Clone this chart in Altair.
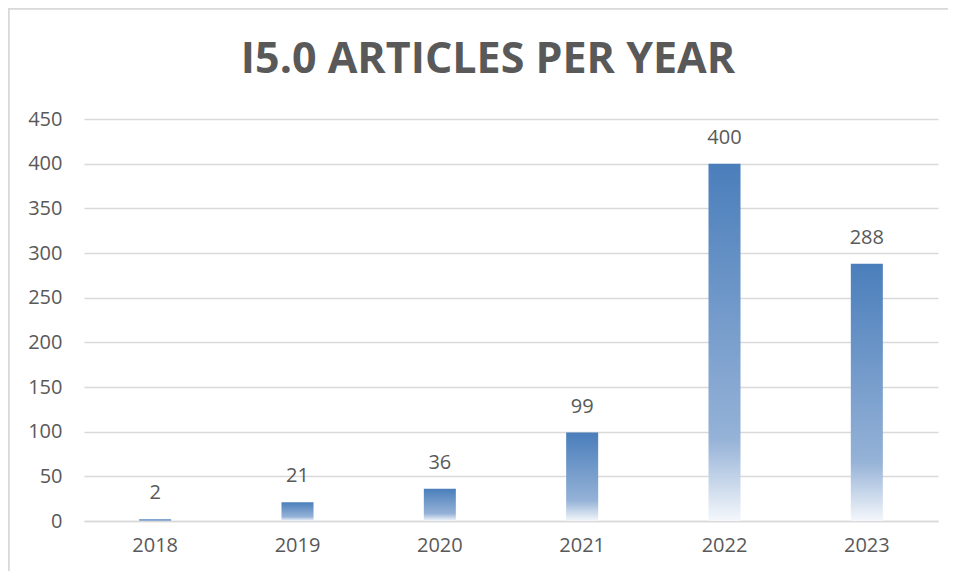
import altair as alt
import pandas as pd

years = ["2018", "2019", "2020", "2021", "2022", "2023"]
articles = [2, 21, 36, 99, 400, 288]
y_ticks = [0, 50, 100, 150, 200, 250, 300, 350, 400, 450]

df = pd.DataFrame({"year": years, "articles": articles})

FONT = "Open Sans"
GREY = "#595959"

gradient = alt.Gradient(
    gradient="linear",
    stops=[
        alt.GradientStop(color="#4A7EBB", offset=0),
        alt.GradientStop(color="#95B2D7", offset=0.77),
        alt.GradientStop(color="#F4F7FB", offset=1),
    ],
    x1=0, x2=0, y1=0, y2=1,
)

x_enc = alt.X(
    "year:N",
    sort=years,
    title=None,
    scale=alt.Scale(paddingInner=0.775, paddingOuter=0.3875),
    axis=alt.Axis(labelAngle=0, labelFont=FONT, labelFontSize=20, labelColor=GREY,
                  labelPadding=14, ticks=False, domainColor="#D9D9D9", domainWidth=1.5),
)
y_enc = alt.Y(
    "articles:Q",
    title=None,
    scale=alt.Scale(domain=[0, 450], nice=False),
    axis=alt.Axis(values=y_ticks, labelFont=FONT, labelFontSize=20, labelColor=GREY,
                  labelPadding=22, ticks=False, domain=False, gridColor="#D9D9D9",
                  gridWidth=1.5),
)

bars = alt.Chart(df).mark_bar(color=gradient).encode(x=x_enc, y=y_enc)

labels = alt.Chart(df).mark_text(
    font=FONT, fontSize=20, color=GREY, baseline="bottom", dy=-16
).encode(x=alt.X("year:N", sort=years), y="articles:Q", text="articles:Q")

border_left = alt.Chart(df).mark_rule(color="#D9D9D9", strokeWidth=1.5).encode(
    x=alt.value(-75.5), y=alt.value(-110.5), y2=alt.value(460)
)
border_top = alt.Chart(df).mark_rule(color="#D9D9D9", strokeWidth=1.5).encode(
    x=alt.value(-75.5), x2=alt.value(870), y=alt.value(-110.5)
)

chart = (
    alt.layer(border_left, border_top, bars, labels)
    .properties(
        width=854,
        height=402,
        background="white",
        autosize=alt.AutoSizeParams(type="none"),
        padding={"left": 76, "top": 111, "right": 10, "bottom": 50},
        title=alt.TitleParams(
            "I5.0 ARTICLES PER YEAR",
            font=FONT, fontSize=43, fontWeight="bold", color=GREY,
            anchor="middle", dx=-23, offset=-108, baseline="alphabetic",
        ),
    )
    .configure_view(strokeWidth=0, stroke="transparent")
)

chart.save("out.html", embed_options={"renderer": "svg", "actions": False})
